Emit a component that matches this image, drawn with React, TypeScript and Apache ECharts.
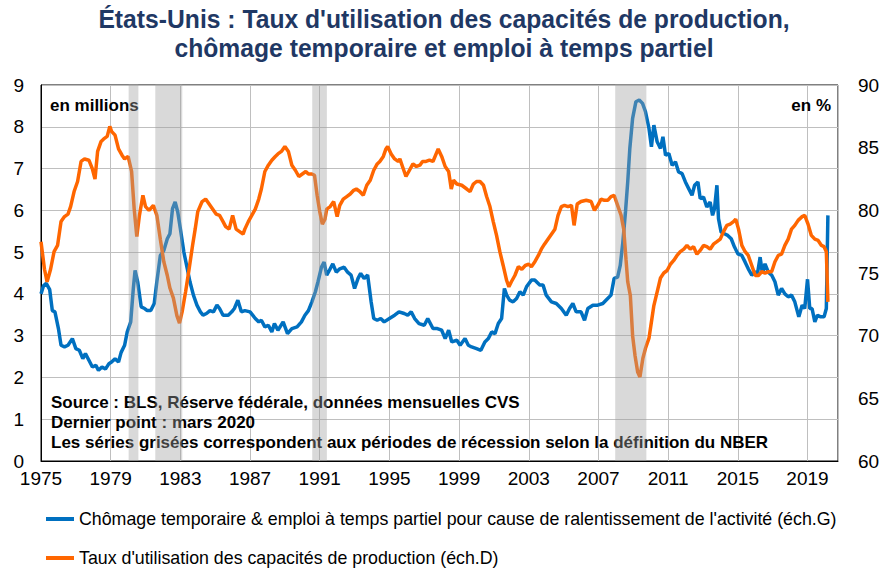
import React, { useEffect, useRef } from "react";
import * as echarts from "echarts";

// Chômage temporaire & emploi à temps partiel (millions, left axis)
const blueYears = [
  1975.0, 1975.15, 1975.3, 1975.5, 1975.65, 1975.8, 1976.0, 1976.15, 1976.35, 1976.55, 1976.8, 1977.0, 1977.2, 1977.4,
  1977.55, 1977.75, 1977.95, 1978.15, 1978.3, 1978.5, 1978.7, 1978.9, 1979.05, 1979.25, 1979.45, 1979.6, 1979.8, 1979.95,
  1980.15, 1980.3, 1980.4, 1980.55, 1980.75, 1980.95, 1981.1, 1981.3, 1981.5, 1981.65, 1981.85, 1982.05, 1982.25, 1982.4,
  1982.55, 1982.7, 1982.85, 1983.0, 1983.2, 1983.4, 1983.55, 1983.75, 1983.95, 1984.15, 1984.3, 1984.5, 1984.7, 1984.9,
  1985.1, 1985.25, 1985.45, 1985.75, 1985.95, 1986.1, 1986.3, 1986.5, 1986.7, 1987.0, 1987.3, 1987.5, 1987.65, 1987.85,
  1988.05, 1988.25, 1988.4, 1988.6, 1988.9, 1989.15, 1989.4, 1989.7, 1989.95, 1990.15, 1990.35, 1990.55, 1990.75, 1990.9,
  1991.1, 1991.25, 1991.4, 1991.55, 1991.75, 1991.95, 1992.15, 1992.4, 1992.6, 1992.8, 1993.0, 1993.2, 1993.35, 1993.55,
  1993.75, 1993.95, 1994.1, 1994.3, 1994.5, 1994.7, 1995.0, 1995.3, 1995.55, 1995.85, 1996.05, 1996.25, 1996.45, 1996.7,
  1997.0, 1997.2, 1997.5, 1997.75, 1998.0, 1998.2, 1998.4, 1998.58, 1998.87, 1999.06, 1999.34, 1999.53, 1999.72, 2000.0,
  2000.25, 2000.48, 2000.68, 2000.87, 2001.06, 2001.25, 2001.44, 2001.6, 2001.73, 2001.9, 2002.1, 2002.3, 2002.49, 2002.68,
  2002.87, 2003.15, 2003.34, 2003.63, 2003.82, 2004.0, 2004.3, 2004.58, 2004.87, 2005.15, 2005.34, 2005.53, 2005.72, 2006.0,
  2006.2, 2006.39, 2006.68, 2006.96, 2007.25, 2007.53, 2007.72, 2007.9, 2008.1, 2008.25, 2008.4, 2008.55, 2008.68, 2008.8,
  2008.96, 2009.15, 2009.34, 2009.53, 2009.7, 2009.9, 2010.04, 2010.18, 2010.37, 2010.56, 2010.7, 2010.85, 2011.04, 2011.23,
  2011.42, 2011.6, 2011.8, 2011.99, 2012.18, 2012.37, 2012.52, 2012.71, 2012.84, 2013.03, 2013.22, 2013.41, 2013.55, 2013.66,
  2013.8, 2013.89, 2014.04, 2014.23, 2014.42, 2014.62, 2014.81, 2015.0, 2015.23, 2015.42, 2015.6, 2015.8, 2016.0, 2016.14,
  2016.28, 2016.41, 2016.56, 2016.75, 2016.94, 2017.13, 2017.32, 2017.51, 2017.7, 2017.89, 2018.08, 2018.27, 2018.5, 2018.69,
  2018.84, 2019.0, 2019.13, 2019.26, 2019.42, 2019.57, 2019.76, 2019.95, 2020.08, 2020.17,
];
const blueValues = [
  4.0, 4.2, 4.25, 4.1, 3.6, 3.57, 3.17, 2.77, 2.73, 2.77, 2.93, 2.69, 2.65, 2.45,
  2.57, 2.41, 2.25, 2.29, 2.17, 2.25, 2.2, 2.33, 2.37, 2.45, 2.37, 2.6, 2.77, 3.09,
  3.33, 4.13, 4.56, 4.29, 3.69, 3.65, 3.6, 3.6, 3.77, 4.29, 4.92, 5.04, 5.32, 5.44,
  6.04, 6.2, 5.96, 5.56, 5.0, 4.6, 4.29, 3.97, 3.73, 3.57, 3.49, 3.53, 3.6, 3.57,
  3.73, 3.65, 3.49, 3.49, 3.57, 3.65, 3.85, 3.57, 3.6, 3.57, 3.41, 3.33, 3.37, 3.21,
  3.25, 3.09, 3.29, 3.13, 3.33, 3.05, 3.17, 3.21, 3.33, 3.49, 3.6, 3.81, 4.05, 4.29,
  4.64, 4.76, 4.45, 4.56, 4.72, 4.52, 4.6, 4.64, 4.52, 4.45, 4.13, 4.37, 4.49, 4.37,
  4.45, 3.81, 3.41, 3.37, 3.41, 3.33, 3.41, 3.49, 3.57, 3.53, 3.49, 3.57, 3.41, 3.29,
  3.25, 3.41, 3.17, 3.17, 3.13, 2.93, 3.13, 2.85, 2.89, 2.77, 2.93, 2.77, 2.73, 2.69,
  2.65, 2.85, 2.93, 3.09, 3.05, 3.29, 3.41, 4.13, 3.97, 3.85, 3.81, 3.89, 4.05, 3.97,
  4.17, 4.33, 4.33, 4.21, 4.21, 3.97, 3.81, 3.77, 3.65, 3.49, 3.65, 3.77, 3.57, 3.57,
  3.37, 3.65, 3.73, 3.73, 3.77, 3.89, 3.97, 4.37, 4.4, 4.68, 5.24, 5.96, 6.68, 7.48,
  8.2, 8.6, 8.64, 8.56, 8.36, 7.96, 7.52, 8.04, 7.64, 7.48, 7.76, 7.32, 7.36, 7.08,
  7.16, 6.92, 6.88, 6.68, 6.52, 6.36, 6.6, 6.68, 6.28, 6.32, 6.08, 6.2, 5.88, 6.04,
  6.6, 5.8, 5.48, 5.44, 5.4, 5.32, 5.12, 4.96, 4.92, 4.76, 4.6, 4.45, 4.52, 4.52,
  4.88, 4.49, 4.72, 4.52, 4.45, 4.29, 3.97, 4.13, 4.0, 3.93, 3.97, 3.81, 3.45, 3.73,
  3.65, 4.35, 3.65, 3.65, 3.33, 3.49, 3.45, 3.45, 3.65, 5.88,
];

// Taux d'utilisation des capacités de production (%, right axis)
const orangeYears = [
  1975.0, 1975.2, 1975.35, 1975.55, 1975.75, 1975.95, 1976.15, 1976.35, 1976.55, 1976.7, 1976.9, 1977.1, 1977.3, 1977.5,
  1977.75, 1977.95, 1978.1, 1978.25, 1978.45, 1978.6, 1978.8, 1978.95, 1979.05, 1979.25, 1979.45, 1979.65, 1979.8, 1980.0,
  1980.2, 1980.35, 1980.5, 1980.65, 1980.85, 1981.0, 1981.2, 1981.45, 1981.65, 1981.85, 1982.05, 1982.25, 1982.4, 1982.6,
  1982.8, 1982.95, 1983.1, 1983.3, 1983.5, 1983.7, 1983.85, 1984.0, 1984.25, 1984.45, 1984.65, 1984.85, 1985.05, 1985.25,
  1985.45, 1985.6, 1985.8, 1986.0, 1986.2, 1986.4, 1986.6, 1986.7, 1986.9, 1987.1, 1987.3, 1987.5, 1987.65, 1987.85,
  1988.05, 1988.25, 1988.45, 1988.6, 1988.8, 1989.0, 1989.2, 1989.4, 1989.6, 1989.8, 1990.0, 1990.2, 1990.35, 1990.55,
  1990.7, 1990.85, 1991.0, 1991.15, 1991.3, 1991.4, 1991.6, 1991.8, 1992.0, 1992.15, 1992.35, 1992.55, 1992.75, 1992.95,
  1993.1, 1993.3, 1993.5, 1993.7, 1993.9, 1994.1, 1994.3, 1994.45, 1994.65, 1994.8, 1994.9, 1995.1, 1995.3, 1995.5,
  1995.6, 1995.75, 1995.95, 1996.15, 1996.35, 1996.55, 1996.75, 1996.9, 1997.1, 1997.3, 1997.5, 1997.8, 1998.0, 1998.2,
  1998.4, 1998.55, 1998.68, 1998.87, 1999.15, 1999.44, 1999.63, 1999.82, 2000.0, 2000.2, 2000.4, 2000.58, 2000.77, 2000.96,
  2001.15, 2001.34, 2001.53, 2001.73, 2001.86, 2002.0, 2002.2, 2002.4, 2002.6, 2002.8, 2003.0, 2003.15, 2003.35, 2003.55,
  2003.72, 2003.9, 2004.1, 2004.3, 2004.5, 2004.68, 2004.87, 2005.05, 2005.25, 2005.45, 2005.6, 2005.78, 2006.0, 2006.3,
  2006.58, 2006.77, 2006.96, 2007.15, 2007.34, 2007.53, 2007.72, 2007.9, 2008.1, 2008.3, 2008.45, 2008.58, 2008.68, 2008.83,
  2008.96, 2009.1, 2009.25, 2009.38, 2009.55, 2009.7, 2009.9, 2010.04, 2010.18, 2010.37, 2010.56, 2010.75, 2010.94, 2011.13,
  2011.32, 2011.51, 2011.7, 2011.9, 2012.08, 2012.27, 2012.46, 2012.65, 2012.84, 2013.03, 2013.22, 2013.41, 2013.6, 2013.8,
  2013.99, 2014.18, 2014.37, 2014.56, 2014.75, 2014.88, 2015.04, 2015.23, 2015.42, 2015.6, 2015.8, 2016.0, 2016.18, 2016.37,
  2016.56, 2016.75, 2016.94, 2017.13, 2017.32, 2017.51, 2017.7, 2017.89, 2018.08, 2018.27, 2018.46, 2018.69, 2018.84, 2019.03,
  2019.22, 2019.42, 2019.61, 2019.8, 2019.95, 2020.08, 2020.17,
];
const orangeValues = [
  77.5, 75.3, 74.3, 75.3, 76.7, 77.2, 79.1, 79.5, 79.7, 80.3, 81.5, 82.3, 83.9, 84.1,
  84.0, 83.3, 82.5, 84.7, 85.5, 85.7, 85.9, 86.7, 86.3, 86.0, 84.9, 84.4, 84.1, 84.3,
  83.1, 80.1, 77.9, 79.6, 81.2, 80.3, 80.0, 80.4, 79.6, 77.7, 75.9, 74.8, 73.8, 73.0,
  71.6, 71.0, 71.9, 73.5, 75.3, 77.2, 78.5, 79.9, 80.7, 80.9, 80.5, 80.1, 79.7, 79.6,
  79.1, 78.7, 78.5, 79.6, 78.5, 78.3, 78.1, 78.5, 79.1, 79.6, 80.1, 80.9, 81.7, 83.1,
  83.6, 84.0, 84.3, 84.5, 84.7, 85.1, 84.7, 83.6, 83.2, 82.7, 82.9, 83.1, 82.9, 82.9,
  82.8, 81.2, 79.9, 78.9, 79.3, 80.1, 80.3, 80.7, 79.5, 80.4, 80.9, 81.1, 81.3, 81.6,
  81.7, 81.5, 81.2, 82.0, 82.4, 83.2, 83.7, 83.9, 84.3, 84.9, 85.1, 84.5, 84.1, 83.9,
  84.1, 83.5, 82.7, 83.2, 83.7, 83.5, 83.6, 83.9, 83.9, 84.0, 83.9, 84.9, 84.3, 83.5,
  83.1, 81.7, 82.4, 82.1, 82.0, 81.7, 81.5, 82.1, 82.3, 82.3, 82.0, 81.1, 80.3, 79.1,
  78.0, 76.7, 75.6, 74.4, 73.9, 74.3, 74.8, 75.5, 75.3, 75.6, 75.7, 75.5, 75.9, 76.4,
  76.9, 77.3, 77.7, 78.1, 78.5, 79.6, 80.3, 80.4, 80.3, 80.4, 78.8, 80.5, 80.7, 80.8,
  80.7, 80.0, 80.4, 80.9, 80.8, 80.8, 81.1, 81.2, 80.4, 79.6, 78.5, 76.1, 74.3, 73.2,
  70.0, 68.4, 67.1, 66.7, 68.2, 69.0, 69.8, 71.1, 72.4, 73.5, 74.6, 75.0, 75.2, 75.7,
  76.0, 76.4, 76.7, 76.9, 77.2, 76.9, 77.1, 76.5, 76.8, 77.2, 77.1, 76.9, 77.3, 77.5,
  77.7, 78.3, 78.8, 78.9, 79.1, 79.3, 78.5, 77.2, 76.7, 76.4, 75.6, 74.8, 74.8, 75.1,
  75.0, 75.1, 75.1, 75.9, 76.4, 76.5, 77.2, 77.7, 78.5, 78.8, 79.2, 79.5, 79.6, 78.9,
  78.0, 77.7, 77.6, 77.2, 77.1, 76.7, 72.7,
];

// NBER recessions (as shaded on the chart)
const recessionStarts = [1980.03, 1981.56, 1990.57, 2007.96];
const recessionEnds = [1980.59, 1983.11, 1991.41, 2009.75];

const BASE_YEAR = 1975;
const X_MAX = 45.75;
const LEFT_TICKS = { min: 0, max: 9, interval: 1 };
const RIGHT_TICKS = { min: 60, max: 90, interval: 5 };

const titleLines = [
  "États-Unis : Taux d'utilisation des capacités de production,",
  "chômage temporaire et emploi à temps partiel",
];
const blueName = "Chômage temporaire & emploi à temps partiel pour cause de ralentissement de l'activité (éch.G)";
const orangeName = "Taux d'utilisation des capacités de production (éch.D)";

const FONT = "'Liberation Sans', Arial, sans-serif";

export default function App() {
  const ref = useRef<HTMLDivElement>(null);
  useEffect(() => {
    if (!ref.current) return;
    const chart = echarts.init(ref.current, null, { renderer: "svg" });
    const blueData = blueYears.map((y, i) => [y - BASE_YEAR, blueValues[i]]);
    const orangeData = orangeYears.map((y, i) => [y - BASE_YEAR, orangeValues[i]]);
    const bandData = recessionStarts.map((s, i) => [s - BASE_YEAR, recessionEnds[i]]);
    chart.setOption({
      animation: false,
      backgroundColor: "#fff",
      legend: {
        data: [blueName, orangeName],
        orient: "vertical",
        left: 46,
        top: 508,
        padding: 0,
        itemGap: 17,
        itemWidth: 28,
        itemHeight: 4,
        icon: "rect",
        textStyle: { fontFamily: FONT, fontSize: 17.8, color: "#000", lineHeight: 22 },
      },
      grid: {
        left: 41,
        right: 50,
        top: 85,
        bottom: 118,
        show: true,
        borderColor: "#000",
        borderWidth: 1,
        containLabel: false,
      },
      xAxis: {
        type: "value",
        min: 0,
        max: X_MAX,
        interval: 4,
        axisLine: { show: true, lineStyle: { color: "#000", width: 1 } },
        axisTick: { show: false },
        splitLine: { show: true, lineStyle: { color: "#BFBFBF", width: 1 } },
        axisLabel: {
          fontFamily: FONT,
          fontSize: 19,
          color: "#000",
          margin: 8,
          formatter: (v: number) =>
            Math.abs(v % 4) < 1e-6 && v <= 44 ? String(BASE_YEAR + Math.round(v)) : "",
        },
      },
      yAxis: [
        {
          type: "value",
          ...LEFT_TICKS,
          axisLine: { show: true, lineStyle: { color: "#000" } },
          axisTick: { show: false },
          splitLine: { show: true, lineStyle: { color: "#BFBFBF", width: 1 } },
          axisLabel: { fontFamily: FONT, fontSize: 19, color: "#000", margin: 17 },
        },
        {
          type: "value",
          ...RIGHT_TICKS,
          position: "right",
          axisLine: { show: false },
          axisTick: { show: false },
          splitLine: { show: false },
          axisLabel: { fontFamily: FONT, fontSize: 19, color: "#000", margin: 20 },
        },
      ],
      graphic: [
        {
          type: "text",
          x: 444,
          y: 19,
          scaleX: 0.95,
          z: 1,
          style: {
            text: titleLines[0],
            align: "center",
            verticalAlign: "middle",
            font: `bold 26px ${FONT}`,
            fill: "#1F3864",
          },
        },
        {
          type: "text",
          x: 444,
          y: 48,
          scaleX: 0.95,
          z: 1,
          style: {
            text: titleLines[1],
            align: "center",
            verticalAlign: "middle",
            font: `bold 26px ${FONT}`,
            fill: "#1F3864",
          },
        },
        {
          type: "text",
          left: 50,
          top: 97,
          z: 1,
          style: { text: "en millions", font: `bold 17px ${FONT}`, fill: "#000" },
        },
        {
          type: "text",
          right: 57,
          top: 97,
          z: 1,
          style: { text: "en %", font: `bold 17px ${FONT}`, fill: "#000" },
        },
        {
          type: "text",
          left: 51,
          top: 392,
          z: 1,
          style: {
            text: "Source : BLS, Réserve fédérale, données mensuelles CVS\nDernier point : mars 2020\nLes séries grisées correspondent aux périodes de récession selon la définition du NBER",
            font: `bold 17px ${FONT}`,
            lineHeight: 20,
            fill: "#000",
          },
        },
      ],
      series: [
        {
          name: blueName,
          type: "line",
          yAxisIndex: 0,
          data: blueData,
          showSymbol: false,
          symbol: "none",
          lineStyle: { color: "#0070C0", width: 3.5 },
          itemStyle: { color: "#0070C0" },
          z: 3,
        },
        {
          name: orangeName,
          type: "line",
          yAxisIndex: 1,
          data: orangeData,
          showSymbol: false,
          symbol: "none",
          lineStyle: { color: "#FF6600", width: 3.5 },
          itemStyle: { color: "#FF6600" },
          z: 4,
        },
        {
          name: "récessions",
          type: "custom",
          xAxisIndex: 0,
          yAxisIndex: 0,
          silent: true,
          z: 10,
          data: bandData,
          renderItem: (_params: any, api: any) => {
            const p0 = api.coord([api.value(0), LEFT_TICKS.max]);
            const p1 = api.coord([api.value(1) - BASE_YEAR, LEFT_TICKS.min]);
            return {
              type: "rect",
              shape: { x: p0[0], y: p0[1] - 1, width: p1[0] - p0[0], height: p1[1] - p0[1] + 1 },
              style: { fill: "rgba(160,160,160,0.4)" },
            };
          },
        },
      ],
    });
    return () => chart.dispose();
  }, []);
  return (
    <div
      ref={ref}
      style={{ position: "absolute", left: 0, top: 0, width: 888, height: 579, background: "#fff" }}
    />
  );
}
